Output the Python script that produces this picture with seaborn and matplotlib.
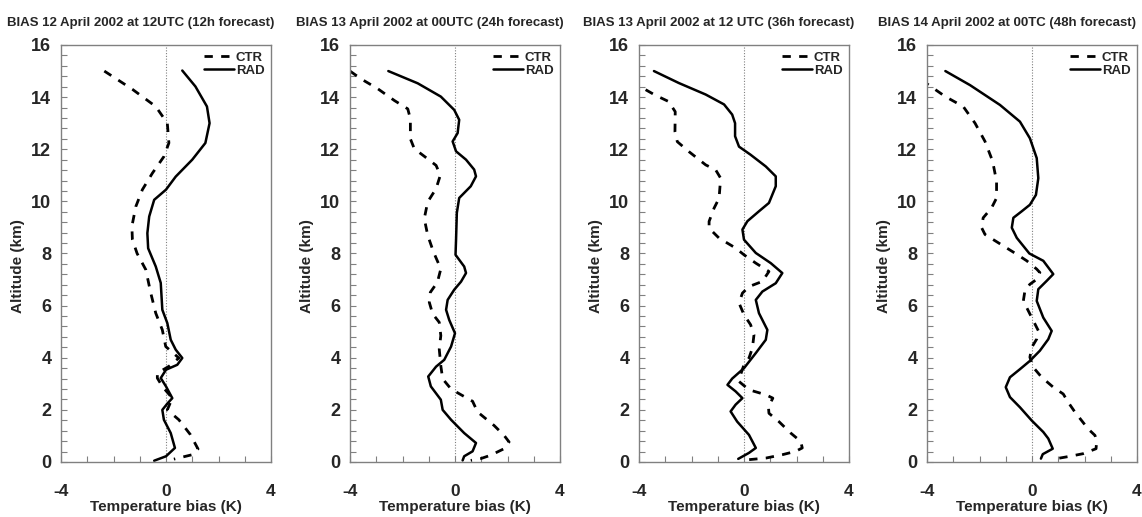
import matplotlib
matplotlib.use("Agg")
import matplotlib.pyplot as plt
from matplotlib.ticker import MultipleLocator
from matplotlib import font_manager
import seaborn as sns

sns.set_style("white")
names = {f.name for f in font_manager.fontManager.ttflist}
fam = "Liberation Sans Narrow" if "Liberation Sans Narrow" in names else "Liberation Sans"
plt.rcParams["font.family"] = [fam, "DejaVu Sans"]
plt.rcParams["font.weight"] = "bold"
plt.rcParams["axes.unicode_minus"] = False

titles = [
    "BIAS 12 April 2002 at 12UTC (12h forecast)",
    "BIAS 13 April 2002 at 00UTC (24h forecast)",
    "BIAS 13 April 2002 at 12 UTC (36h forecast)",
    "BIAS 14 April 2002 at 00TC (48h forecast)",
]

# panel 1 (12h)
ctr1_alt = [15.0, 14.3, 13.64, 13.0, 12.24, 11.72, 11.08, 10.45, 9.8, 9.04, 8.53, 8.0, 7.38, 6.48,
            5.71, 5.07, 4.43, 3.99, 3.67, 3.41, 3.22, 2.9, 2.45, 2.0, 1.62, 1.05, 0.5, 0.28, 0.11]
ctr1_bias = [-2.35, -1.28, -0.39, 0.05, 0.11, -0.08, -0.52, -0.9, -1.15, -1.3, -1.28, -1.1, -0.77, -0.58,
             -0.39, -0.14, -0.01, 0.49, 0.11, -0.33, -0.33, -0.14, 0.24, 0.05, 0.49, 0.93, 1.22, 1.0, 0.3]
rad1_alt = [15.02, 14.41, 13.64, 13.0, 12.24, 11.6, 10.95, 10.45, 10.06, 9.42, 8.78, 8.2, 7.5, 6.87, 5.84,
            5.33, 4.69, 4.31, 3.99, 3.73, 3.54, 3.22, 2.9, 2.45, 2.24, 2.0, 1.62, 1.11, 0.54, 0.22, 0.05]
rad1_bias = [0.62, 1.12, 1.56, 1.66, 1.5, 1.0, 0.37, 0.0, -0.45, -0.64, -0.71, -0.68, -0.39, -0.2, -0.14,
             0.05, 0.18, 0.37, 0.62, 0.43, 0.0, -0.2, 0.0, 0.24, 0.05, -0.14, -0.08, 0.18, 0.34, 0.0, -0.45]

# panel 2 (24h)
ctr2_alt = [15.0, 14.7, 14.32, 13.87, 13.55, 13.17, 12.4, 12.02, 11.63, 11.38, 11.0, 10.49, 9.98, 9.34,
            8.7, 8.06, 7.41, 6.9, 6.51, 6.13, 5.68, 5.36, 4.85, 4.33, 3.69, 3.19, 2.8, 2.58, 2.33, 1.92,
            1.4, 1.02, 0.77, 0.51, 0.26, 0.13, 0.06]
ctr2_bias = [-4.0, -3.58, -2.94, -2.31, -1.8, -1.7, -1.7, -1.55, -1.04, -0.72, -0.56, -0.72, -1.04, -1.17,
             -1.04, -0.82, -0.54, -0.67, -0.94, -0.98, -0.85, -0.6, -0.54, -0.6, -0.54, -0.47, -0.15, 0.23,
             0.67, 0.86, 1.49, 1.87, 2.06, 1.87, 1.36, 0.98, 0.6]
rad2_alt = [15.0, 14.53, 14.02, 13.51, 13.13, 12.62, 12.3, 11.92, 11.6, 11.22, 10.96, 10.58, 10.13, 9.56,
            8.53, 7.95, 7.5, 7.25, 6.92, 6.61, 6.22, 5.84, 5.45, 4.94, 4.43, 3.92, 3.66, 3.28, 2.9, 2.39,
            2.0, 1.62, 1.11, 0.73, 0.41, 0.22, 0.06]
rad2_bias = [-2.54, -1.42, -0.54, -0.03, 0.16, 0.1, -0.09, 0.04, 0.42, 0.73, 0.8, 0.6, 0.16, 0.07,
             0.04, 0.02, 0.35, 0.42, 0.23, -0.03, -0.28, -0.34, -0.22, 0.0, -0.15, -0.41, -0.72, -1.02,
             -0.92, -0.54, -0.47, -0.15, 0.35, 0.8, 0.67, 0.35, 0.29]

# panel 3 (36h)
ctr3_alt = [14.6, 14.08, 13.83, 13.44, 12.68, 12.29, 11.91, 11.4, 11.21, 10.89, 10.12, 9.74, 9.23, 8.97,
            8.59, 8.21, 7.95, 7.63, 7.31, 6.93, 6.73, 6.48, 6.1, 5.65, 5.27, 4.88, 4.37, 3.99, 3.73, 3.35,
            3.09, 2.77, 2.58, 2.45, 2.13, 1.87, 1.55, 1.11, 0.79, 0.54, 0.41, 0.28, 0.15, 0.09]
ctr3_bias = [-4.3, -3.39, -2.87, -2.62, -2.63, -2.54, -2.1, -1.46, -1.08, -0.89, -0.95, -1.14, -1.33, -1.33,
             -0.95, -0.32, 0.0, 0.45, 0.95, 0.7, 0.19, -0.06, -0.19, 0.0, 0.25, 0.38, 0.32, 0.19, 0.0,
             -0.13, -0.19, 0.19, 0.83, 1.1, 0.93, 0.95, 1.33, 1.78, 2.16, 2.22, 1.97, 1.46, 0.83, 0.19]
rad3_alt = [15.0, 14.54, 14.1, 13.72, 13.33, 13.0, 12.5, 12.1, 11.79, 11.34, 10.96, 10.58, 9.94, 9.62,
            9.24, 8.92, 8.53, 8.02, 7.63, 7.25, 6.86, 6.54, 6.22, 5.71, 5.07, 4.69, 4.18, 3.6, 3.2, 2.96,
            2.71, 2.45, 2.2, 1.94, 1.55, 1.04, 0.54, 0.35, 0.12]
rad3_bias = [-3.43, -2.48, -1.46, -0.76, -0.45, -0.34, -0.34, -0.19, 0.25, 0.83, 1.21, 1.21, 0.95, 0.57,
             0.13, -0.06, 0.0, 0.45, 1.02, 1.46, 1.21, 0.7, 0.45, 0.57, 0.89, 0.83, 0.45, 0.0, -0.45,
             -0.63, -0.32, -0.06, -0.32, -0.51, -0.26, 0.19, 0.45, 0.19, -0.22]

# panel 4 (48h)
ctr4_alt = [14.65, 14.02, 13.64, 13.0, 12.3, 11.54, 10.77, 10.13, 9.75, 9.37, 8.99, 8.73, 8.29, 7.97,
            7.72, 7.4, 7.27, 7.01, 6.82, 6.57, 6.18, 5.8, 5.42, 5.04, 4.72, 4.4, 4.02, 3.63, 3.25, 2.87,
            2.61, 2.29, 1.91, 1.59, 1.27, 1.02, 0.76, 0.51, 0.32, 0.22, 0.13]
ctr4_bias = [-4.2, -3.3, -2.62, -2.17, -1.79, -1.5, -1.35, -1.35, -1.54, -1.86, -1.92, -1.79, -1.09, -0.58,
             -0.2, 0.18, 0.3, 0.18, -0.08, -0.27, -0.33, -0.14, 0.05, 0.24, 0.18, -0.01, -0.08, 0.05,
             0.37, 0.81, 1.19, 1.38, 1.64, 1.89, 2.14, 2.4, 2.46, 2.44, 1.95, 1.45, 0.94]
rad4_alt = [15.0, 14.46, 13.7, 13.06, 12.42, 11.66, 10.89, 10.25, 9.87, 9.62, 9.37, 8.99, 8.6, 8.0, 7.72,
            7.21, 6.95, 6.63, 6.18, 5.54, 5.03, 4.71, 4.27, 3.88, 3.56, 3.25, 2.87, 2.49, 2.1, 1.59, 1.15,
            0.9, 0.51, 0.3, 0.13]
rad4_bias = [-3.3, -2.36, -1.22, -0.46, -0.08, 0.18, 0.24, 0.15, -0.08, -0.39, -0.71, -0.77, -0.58, -0.1,
             0.43, 0.81, 0.56, 0.24, 0.18, 0.43, 0.75, 0.62, 0.3, -0.08, -0.46, -0.84, -1.0, -0.84, -0.46,
             -0.01, 0.43, 0.62, 0.79, 0.41, 0.34]

panels = [
    (ctr1_alt, ctr1_bias, rad1_alt, rad1_bias),
    (ctr2_alt, ctr2_bias, rad2_alt, rad2_bias),
    (ctr3_alt, ctr3_bias, rad3_alt, rad3_bias),
    (ctr4_alt, ctr4_bias, rad4_alt, rad4_bias),
]
lefts = [61, 350, 639, 927]

W, H = 1142, 517
fig = plt.figure(figsize=(W / 100, H / 100), dpi=100)

for i, (ca, cb, ra, rb) in enumerate(panels):
    ax = fig.add_axes([lefts[i] / W, (H - 462) / H, 210 / W, 417 / H])
    ax.axvline(0, color="gray", lw=0.8, ls=(0, (1, 1.5)), zorder=1)
    sns.lineplot(x=cb, y=ca, sort=False, estimator=None, ax=ax, color="black",
                 lw=2, dashes=False, linestyle=(0, (3, 3)), label="CTR")
    sns.lineplot(x=rb, y=ra, sort=False, estimator=None, ax=ax, color="black",
                 lw=1.8, label="RAD")
    ax.set_xlim(-4, 4)
    ax.set_ylim(0, 16)
    ax.xaxis.set_major_locator(MultipleLocator(4))
    ax.xaxis.set_minor_locator(MultipleLocator(1))
    ax.yaxis.set_major_locator(MultipleLocator(2))
    ax.yaxis.set_minor_locator(MultipleLocator(0.4))
    ax.tick_params(which="both", direction="in", length=4, width=0.8, color="gray",
                   bottom=True, left=True)
    ax.tick_params(axis="x", which="major", pad=16, labelsize=12.5)
    ax.tick_params(axis="y", which="major", pad=7, labelsize=13)
    for sp in ax.spines.values():
        sp.set_color("gray")
        sp.set_linewidth(1)
    ax.set_xlabel("Temperature bias (K)", fontsize=11, fontweight="bold", labelpad=0.5)
    ax.set_ylabel("Altitude (km)", fontsize=11, fontweight="bold")
    ax.yaxis.set_label_coords(-0.17, 0.47)
    ax.text(0.38, 1.045, titles[i], transform=ax.transAxes, ha="center", va="baseline",
            fontsize=9.5, fontweight="bold")
    ax.legend(loc="upper right", frameon=False, fontsize=9.5, handlelength=2.3,
              handletextpad=0.1, labelspacing=0.05, borderaxespad=0.3, borderpad=0.2)

fig.savefig("out.png", dpi=100)
